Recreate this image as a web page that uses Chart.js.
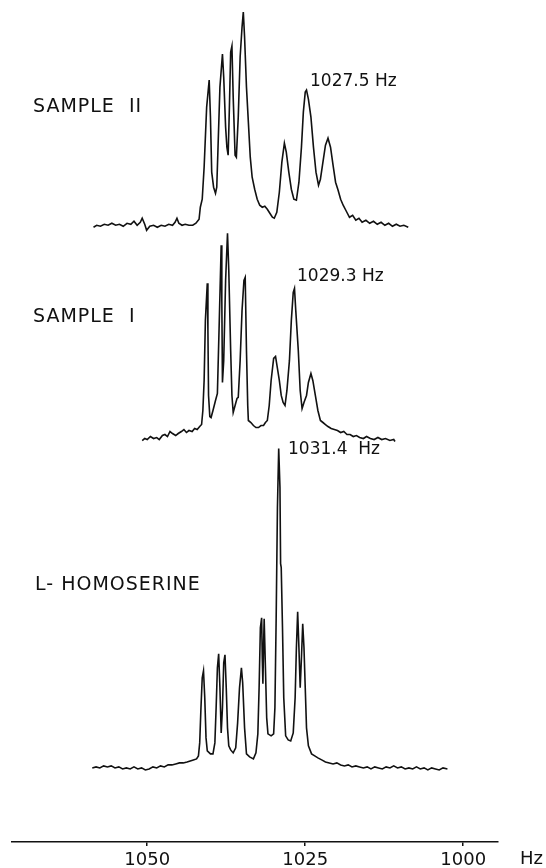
<!DOCTYPE html>
<html>
<head>
<meta charset="utf-8">
<script src="https://cdn.jsdelivr.net/npm/chart.js@4.4.1/dist/chart.umd.min.js"></script>
<style>
  html, body { margin: 0; padding: 0; background: #fff; }
  #wrap { width: 546px; height: 868px; position: relative; }
</style>
</head>
<body>
<div id="wrap"><canvas id="nmrChart"></canvas></div>
<script>
// spectra: [frequency in Hz, signal height above baseline]
const sample2 = [
  [1058.5,0],[1058.0,2],[1057.4,1],[1056.8,3],[1056.2,2],[1055.6,4],[1055.0,2],[1054.4,3],[1053.8,1],
  [1053.2,4],[1052.6,3],[1052.1,6],[1051.6,2],[1051.1,5],[1050.8,9],[1050.4,3],[1050.1,-3],[1049.6,1],
  [1049.0,2],[1048.4,0],[1047.8,2],[1047.2,1],[1046.6,3],[1046.0,2],[1045.6,5],[1045.3,9],[1045.0,4],
  [1044.5,2],[1044.0,3],[1043.4,2],[1042.8,2],[1042.3,4],[1041.8,8],[1041.6,20],[1041.3,28],[1041.0,60],
  [1040.6,120],[1040.2,147],[1040.0,110],[1039.8,55],[1039.5,40],[1039.2,34],[1039.0,40],[1038.8,80],
  [1038.5,140],[1038.1,173],[1037.9,150],[1037.6,100],[1037.4,80],[1037.2,72],[1037.0,120],[1036.8,175],
  [1036.6,181],[1036.4,130],[1036.1,72],[1035.9,70],[1035.6,110],[1035.3,170],[1035.0,200],[1034.8,215],
  [1034.6,190],[1034.3,140],[1034.0,105],[1033.7,70],[1033.4,50],[1033.0,38],[1032.6,28],[1032.2,22],
  [1031.8,20],[1031.4,21],[1031.0,18],[1030.6,14],[1030.2,10],[1029.9,9],[1029.5,15],[1029.1,35],
  [1028.7,65],[1028.3,84],[1028.0,75],[1027.6,55],[1027.2,38],[1026.8,28],[1026.4,27],[1026.0,45],
  [1025.6,80],[1025.3,115],[1025.0,135],[1024.8,137],[1024.5,128],[1024.1,110],[1023.7,80],[1023.3,55],
  [1022.9,42],[1022.6,48],[1022.2,65],[1021.8,82],[1021.4,89],[1021.0,80],[1020.6,62],[1020.2,45],
  [1019.8,37],[1019.4,28],[1019.0,22],[1018.5,16],[1018.0,10],[1017.5,12],[1017.0,7],[1016.5,9],
  [1016.0,5],[1015.4,7],[1014.8,4],[1014.2,6],[1013.6,3],[1013.0,5],[1012.4,2],[1011.8,4],[1011.2,1],
  [1010.6,3],[1010.0,1],[1009.4,2],[1008.7,0]
];

const sample1 = [
  [1050.8,0],[1050.4,2],[1050.0,1],[1049.5,4],[1049.0,2],[1048.5,3],[1048.1,1],[1047.6,5],[1047.2,6],
  [1046.8,4],[1046.4,9],[1046.0,7],[1045.5,5],[1045.1,7],[1044.6,9],[1044.2,11],[1043.8,8],[1043.4,10],
  [1042.9,9],[1042.5,12],[1042.1,11],[1041.7,14],[1041.4,16],[1041.2,30],[1041.0,60],[1040.8,120],
  [1040.5,157],[1040.4,110],[1040.3,45],[1040.1,24],[1039.9,23],[1039.6,30],[1039.2,40],[1038.9,47],
  [1038.6,120],[1038.3,195],[1038.2,140],[1038.1,58],[1037.9,80],[1037.6,160],[1037.3,207],[1037.1,170],
  [1036.8,90],[1036.6,45],[1036.4,28],[1036.1,35],[1035.8,42],[1035.6,43],[1035.3,80],[1035.0,130],
  [1034.7,160],[1034.5,163],[1034.3,90],[1034.1,35],[1034.0,20],[1033.6,18],[1033.2,15],[1032.8,13],
  [1032.4,13],[1032.0,15],[1031.6,15],[1031.3,18],[1031.0,20],[1030.7,35],[1030.4,60],[1030.0,82],
  [1029.7,84],[1029.4,72],[1029.1,60],[1028.8,45],[1028.5,38],[1028.2,35],[1027.9,50],[1027.5,80],
  [1027.2,120],[1026.9,148],[1026.7,152],[1026.5,130],[1026.1,90],[1025.8,50],[1025.5,32],[1025.2,38],
  [1024.8,45],[1024.5,58],[1024.1,67],[1023.8,60],[1023.4,45],[1023.0,30],[1022.6,20],[1022.2,18],
  [1021.8,16],[1021.4,14],[1020.9,12],[1020.4,11],[1019.9,10],[1019.4,8],[1018.9,9],[1018.4,6],
  [1017.9,6],[1017.4,4],[1016.9,5],[1016.4,3],[1015.8,2],[1015.3,4],[1014.7,2],[1014.1,1],[1013.5,3],
  [1012.9,1],[1012.3,2],[1011.6,0],[1011.0,1],[1010.8,-1]
];

const homoserine = [
  [1058.7,0],[1058.1,1],[1057.5,0],[1056.9,2],[1056.3,1],[1055.7,2],[1055.1,0],[1054.5,1],[1053.9,-1],
  [1053.3,0],[1052.7,-1],[1052.1,1],[1051.5,-1],[1050.9,0],[1050.3,-2],[1049.7,-1],[1049.1,1],[1048.5,0],
  [1047.9,2],[1047.3,1],[1046.7,3],[1046.1,3],[1045.5,4],[1044.9,5],[1044.3,5],[1043.7,6],[1043.2,7],
  [1042.7,8],[1042.2,9],[1041.9,12],[1041.7,25],[1041.5,60],[1041.3,90],[1041.1,97],[1040.9,70],
  [1040.7,30],[1040.5,17],[1040.0,14],[1039.6,14],[1039.3,25],[1039.1,60],[1038.9,100],[1038.7,114],
  [1038.5,80],[1038.3,35],[1038.1,60],[1037.9,105],[1037.7,113],[1037.5,80],[1037.3,40],[1037.1,22],
  [1036.8,18],[1036.4,15],[1036.0,20],[1035.7,45],[1035.4,80],[1035.1,100],[1034.9,85],[1034.6,40],
  [1034.3,14],[1033.8,11],[1033.2,9],[1032.8,15],[1032.5,34],[1032.3,80],[1032.1,140],[1031.9,150],
  [1031.8,110],[1031.7,84],[1031.6,120],[1031.5,149],[1031.3,100],[1031.1,50],[1030.9,34],[1030.4,32],
  [1030.0,34],[1029.8,60],[1029.6,150],[1029.4,260],[1029.2,319],[1029.0,280],[1028.9,204],[1028.8,200],
  [1028.6,140],[1028.4,70],[1028.1,32],[1027.7,28],[1027.3,27],[1026.9,35],[1026.6,70],[1026.4,120],
  [1026.2,156],[1026.0,120],[1025.8,80],[1025.6,110],[1025.4,144],[1025.2,120],[1025.0,80],[1024.8,40],
  [1024.5,22],[1024.0,14],[1023.5,12],[1023.0,10],[1022.4,8],[1021.8,6],[1021.2,5],[1020.6,4],
  [1020.0,5],[1019.4,3],[1018.8,2],[1018.2,3],[1017.6,1],[1017.0,2],[1016.4,1],[1015.8,0],[1015.2,1],
  [1014.6,-1],[1014.0,1],[1013.4,0],[1012.8,-1],[1012.2,1],[1011.6,0],[1011.0,2],[1010.4,0],[1009.8,1],
  [1009.2,-1],[1008.6,0],[1008.0,-1],[1007.4,1],[1006.8,-1],[1006.2,0],[1005.6,-2],[1005.0,0],
  [1004.4,-1],[1003.8,-2],[1003.2,0],[1002.5,-1]
];

const traceNames = ['SAMPLE  II', 'SAMPLE  I', 'L- HOMOSERINE'];
const peakLabels = ['1027.5 Hz', '1029.3 Hz', '1031.4  Hz'];
const axisTicks = [1000, 1025, 1050];
const axisUnit = 'Hz';

const ink = '#111';
const toPoints = arr => arr.map(p => ({x: p[0], y: p[1]}));

// labels, written by hand on the original plot
const textPlugin = {
    id: 'handLabels',
    afterDraw(chart) {
        const ctx = chart.ctx;
        const area = chart.chartArea;
        ctx.save();
        ctx.fillStyle = ink;
        ctx.textBaseline = 'middle';
        ctx.textAlign = 'left';
        ctx.letterSpacing = '1px';
        ctx.font = '19px "DejaVu Sans"';
        ctx.fillText(traceNames[0], 33, 107);
        ctx.fillText(traceNames[1], 33, 317);
        ctx.fillText(traceNames[2], 35, 585);

        ctx.font = '17px "DejaVu Sans"';
        ctx.letterSpacing = '0px';
        ctx.fillText(peakLabels[0], 310, 82);
        ctx.fillText(peakLabels[1], 297, 277);
        ctx.fillText(peakLabels[2], 288, 450);

        ctx.font = '18px "DejaVu Sans"';
        ctx.fillText(axisUnit, area.right + 22, 859);
        ctx.restore();
    }
};

const lineStyle = {
    borderColor: ink,
    borderWidth: 1.6,
    pointRadius: 0,
    tension: 0,
    fill: false,
    clip: false
};

const ctx = document.getElementById('nmrChart').getContext('2d');
new Chart(ctx, {
    type: 'line',
    data: {
        datasets: [
            Object.assign({label: traceNames[0], data: toPoints(sample2), yAxisID: 'yTop'}, lineStyle),
            Object.assign({label: traceNames[1], data: toPoints(sample1), yAxisID: 'yMid'}, lineStyle),
            Object.assign({label: traceNames[2], data: toPoints(homoserine), yAxisID: 'yLow'}, lineStyle)
        ]
    },
    options: {
        responsive: true,
        maintainAspectRatio: false,
        animation: false,
        layout: {
            padding: {left: 12, right: 48, top: 0, bottom: -6}
        },
        plugins: {
            legend: {display: false},
            tooltip: {enabled: false}
        },
        scales: {
            x: {
                type: 'linear',
                reverse: true,
                min: 994.5,
                max: 1071.4,
                afterBuildTicks: scale => {
                    scale.ticks = axisTicks.map(v => ({value: v}));
                },
                ticks: {
                    color: ink,
                    padding: 5,
                    font: {family: 'DejaVu Sans', size: 18, lineHeight: 1},
                    callback: v => String(v)
                },
                grid: {
                    display: true,
                    drawOnChartArea: false,
                    drawTicks: true,
                    tickLength: 4,
                    color: ink,
                    lineWidth: 1.5
                },
                border: {display: true, color: ink, width: 1.5}
            },
            // three stacked, hidden intensity axes, one per trace
            yTop: {
                type: 'linear', position: 'left', display: false,
                stack: 'traces', stackWeight: 232, weight: 3,
                min: -5, max: 227
            },
            yMid: {
                type: 'linear', position: 'left', display: false,
                stack: 'traces', stackWeight: 213, weight: 2,
                min: -5, max: 208
            },
            yLow: {
                type: 'linear', position: 'left', display: false,
                stack: 'traces', stackWeight: 396, weight: 1,
                min: -74, max: 322
            }
        }
    },
    plugins: [textPlugin]
});
</script>
</body>
</html>
